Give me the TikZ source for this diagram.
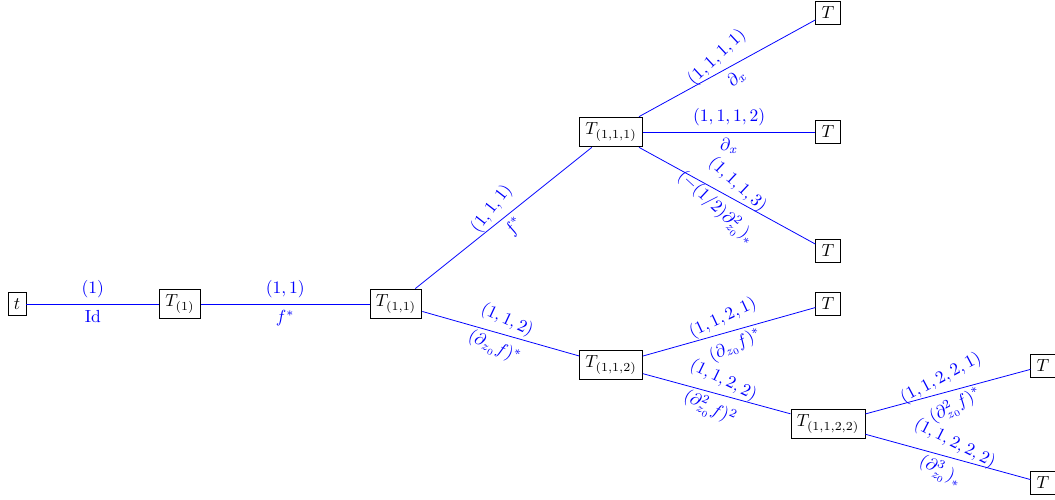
\documentclass[tikz,border=0pt]{standalone}
\begin{document}
\begin{tikzpicture}[x=0.5714pt,y=-0.5714pt,
  box/.style={draw=black, rectangle, inner sep=3.33pt, line width=0.5pt},
  edge/.style={blue, line width=0.45pt},
  lab/.style={text=blue, midway},
  up/.style={lab, anchor=south, rotate=#1},
  dn/.style={lab, anchor=north, rotate=#1}]
\useasboundingbox (0,0) rectangle (1055,500);
\node[box] (t) at (17,304) {$t$};
\node[box] (T1) at (180,304) {$T_{(1)}$};
\node[box] (T11) at (396,304) {$T_{(1,1)}$};
\node[box] (T111) at (611,132) {$T_{(1,1,1)}$};
\node[box] (T112) at (611,365) {$T_{(1,1,2)}$};
\node[box] (T1111) at (828,13) {$T$};
\node[box] (T1112) at (828,132) {$T$};
\node[box] (T1113) at (828,251) {$T$};
\node[box] (T1121) at (828,304) {$T$};
\node[box] (T1122) at (828,424) {$T_{(1,1,2,2)}$};
\node[box] (T11221) at (1043,366) {$T$};
\node[box] (T11222) at (1043,483) {$T$};
\draw[edge] (t) -- node[up=0]{$(1)$} node[dn=0]{$\mathrm{Id}$} (T1);
\draw[edge] (T1) -- node[up=0]{$(1,1)$} node[dn=0]{$f^*$} (T11);
\draw[edge] (T11) -- node[up=52]{$(1,1,1)$} node[dn=52]{$f^*$} (T111);
\draw[edge] (T11) -- node[up=-25]{$(1,1,2)$} node[dn=-25]{$(\partial_{z_0}f)^*$} (T112);
\draw[edge] (T111) -- node[up=43]{$(1,1,1,1)$} node[dn=43]{$\partial_x$} (T1111);
\draw[edge] (T111) -- node[up=0]{$(1,1,1,2)$} node[dn=0]{$\partial_x$} (T1112);
\draw[edge] (T111) -- node[up=-43]{$(1,1,1,3)$} node[dn=-43]{$(-(1/2)\partial^2_{z_0})_*$} (T1113);
\draw[edge] (T112) -- node[up=25]{$(1,1,2,1)$} node[dn=25]{$(\partial_{z_0}f)^*$} (T1121);
\draw[edge] (T112) -- node[up=-26]{$(1,1,2,2)$} node[dn=-26]{$(\partial^2_{z_0}f)^2$} (T1122);
\draw[edge] (T1122) -- node[up=28]{$(1,1,2,2,1)$} node[dn=28]{$(\partial^2_{z_0}f)^*$} (T11221);
\draw[edge] (T1122) -- node[up=-27]{$(1,1,2,2,2)$} node[dn=-27]{$(\partial^3_{z_0})_*$} (T11222);
\end{tikzpicture}
\end{document}
